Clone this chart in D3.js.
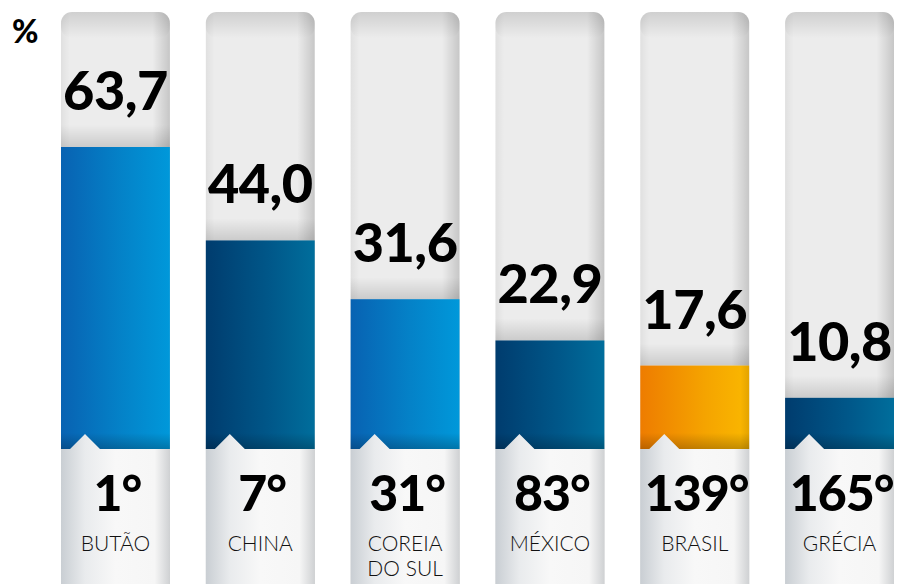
<!DOCTYPE html>
<html>
<head>
<meta charset="utf-8">
<script src="https://cdn.jsdelivr.net/npm/d3@7"></script>
<style>
  html, body { margin: 0; padding: 0; background: #ffffff; }
  svg { display: block; }
</style>
</head>
<body>
<div id="vis"></div>
<script>
// chart values
var countries = ["BUTÃO", "CHINA", "COREIA|DO SUL", "MÉXICO", "BRASIL", "GRÉCIA"];
var values = [63.7, 44.0, 31.6, 22.9, 17.6, 10.8];
var ranks = ["1°", "7°", "31°", "83°", "139°", "165°"];
var barStyle = ["blue", "dark", "blue", "dark", "orange", "dark"];

var width = 897, height = 584;
var baseY = 449, colTop = 12;

var svg = d3.select("#vis").append("svg")
    .attr("width", width)
    .attr("height", height);

var defs = svg.append("defs");

function hGrad(id, stops){
    var g = defs.append("linearGradient").attr("id", id)
        .attr("x1", "0").attr("y1", "0").attr("x2", "1").attr("y2", "0");
    stops.forEach(function(s){
        g.append("stop").attr("offset", s[0]).attr("stop-color", s[1]).attr("stop-opacity", s[2] == null ? 1 : s[2]);
    });
}
function vGrad(id, stops){
    var g = defs.append("linearGradient").attr("id", id)
        .attr("x1", "0").attr("y1", "0").attr("x2", "0").attr("y2", "1");
    stops.forEach(function(s){
        g.append("stop").attr("offset", s[0]).attr("stop-color", s[1]).attr("stop-opacity", s[2] == null ? 1 : s[2]);
    });
}

hGrad("blue", [[0, "#0862b2"], [0.55, "#0482c8"], [1, "#0098da"]]);
hGrad("dark", [[0, "#003c6e"], [0.6, "#00588a"], [1, "#006e9c"]]);
hGrad("orange", [[0, "#ee7c00"], [0.6, "#f5a400"], [0.92, "#f9b400"], [1, "#e3a300"]]);
hGrad("grayEdge", [[0, "#000", 0.05], [0.08, "#000", 0], [0.84, "#000", 0], [1, "#000", 0.16]]);
vGrad("grayTop", [[0, "#000", 0.12], [1, "#000", 0]]);
vGrad("barShadow", [[0, "#000", 0], [1, "#000", 0.14]]);
vGrad("barBottom", [[0, "#000", 0], [1, "#000", 0.22]]);
hGrad("lower", [[0, "#c9ced3"], [0.22, "#e9ebed"], [0.5, "#f8f8f8"], [0.86, "#f6f6f6"], [1, "#cfd1d3"]]);

var x = d3.scaleBand()
    .domain(countries)
    .range([61, 894])
    .paddingInner(0.248)
    .paddingOuter(0);

var y = d3.scaleLinear()
    .domain([0, 63.7])
    .range([baseY, 147]);

var bw = x.bandwidth();

var cols = svg.selectAll(".col")
    .data(countries.map(function(c, i){
        return {name: c, value: values[i], rank: ranks[i], style: barStyle[i]};
    }))
    .enter().append("g")
    .attr("class", "col")
    .attr("transform", function(d){ return "translate(" + x(d.name) + ",0)"; });

// gray tube
cols.append("rect")
    .attr("x", 0).attr("y", colTop)
    .attr("width", bw).attr("height", 640)
    .attr("rx", 11)
    .attr("fill", "#ececec");

cols.append("rect")
    .attr("x", 0).attr("y", colTop)
    .attr("width", bw).attr("height", 640)
    .attr("rx", 11)
    .attr("fill", "url(#grayEdge)");

cols.append("rect")
    .attr("x", 0).attr("y", colTop)
    .attr("width", bw).attr("height", 26)
    .attr("rx", 11)
    .attr("fill", "url(#grayTop)");

// shadow above bar
cols.append("rect")
    .attr("x", 0)
    .attr("y", function(d){ return y(d.value) - 22; })
    .attr("width", bw).attr("height", 22)
    .attr("fill", "url(#barShadow)");

// bars
cols.append("rect")
    .attr("class", "bar")
    .attr("x", 0)
    .attr("y", function(d){ return y(d.value); })
    .attr("width", bw)
    .attr("height", function(d){ return baseY - y(d.value); })
    .attr("fill", function(d){ return "url(#" + d.style + ")"; });

cols.append("rect")
    .attr("x", 0)
    .attr("y", baseY - 16)
    .attr("width", bw).attr("height", 16)
    .attr("fill", "url(#barBottom)");

// lower light part with the small notch
cols.append("path")
    .attr("d", "M0," + baseY + "L9," + baseY + "L24," + (baseY - 15) + "L39," + baseY +
        "L" + bw + "," + baseY + "L" + bw + ",600L0,600Z")
    .attr("fill", "url(#lower)");

// value labels
cols.append("text")
    .attr("x", bw / 2)
    .attr("y", function(d){ return y(d.value) - 37; })
    .attr("text-anchor", "middle")
    .style("font-family", "Lato, 'DejaVu Sans', sans-serif")
    .style("font-weight", 900)
    .style("font-size", "54px")
    .style("letter-spacing", "-0.5px")
    .attr("fill", "#000")
    .text(function(d){ return d3.format(".1f")(d.value).replace(".", ","); });

// rank labels
cols.append("text")
    .attr("x", bw / 2 + 2)
    .attr("y", 511)
    .attr("text-anchor", "middle")
    .style("font-family", "Lato, 'DejaVu Sans', sans-serif")
    .style("font-weight", 900)
    .style("font-size", "50px")
    .style("letter-spacing", "-1px")
    .attr("fill", "#000")
    .text(function(d){ return d.rank; });

// country names
cols.append("text")
    .attr("x", bw / 2)
    .attr("y", 551)
    .attr("text-anchor", "middle")
    .style("font-family", "Lato, sans-serif")
    .style("font-weight", 300)
    .style("font-size", "21px")
    .attr("fill", "#111")
    .each(function(d){
        var parts = d.name.split("|");
        var t = d3.select(this);
        parts.forEach(function(p, i){
            t.append("tspan").attr("x", bw / 2).attr("dy", i === 0 ? 0 : 25).text(p);
        });
    });

svg.append("text")
    .attr("x", 12).attr("y", 43)
    .style("font-family", "Lato, sans-serif")
    .style("font-weight", 900)
    .style("font-size", "32px")
    .attr("fill", "#000")
    .text("%");
</script>
</body>
</html>
